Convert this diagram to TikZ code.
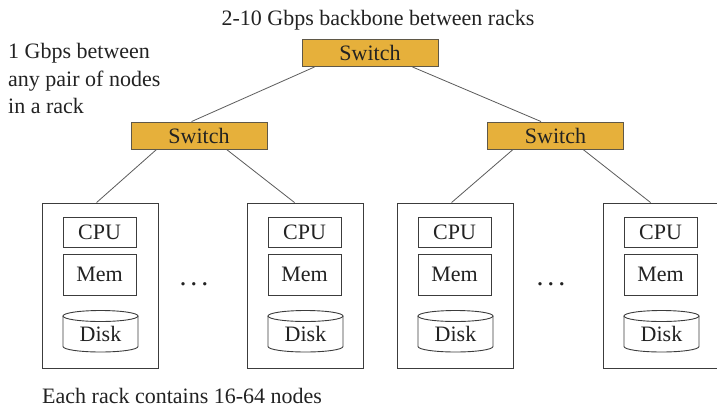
\documentclass[tikz,border=0pt]{standalone}
\usepackage{fontspec}
\setmainfont{Liberation Serif}
\usetikzlibrary{calc}
\definecolor{swfill}{HTML}{E6B03B}
\definecolor{swline}{HTML}{5F5848}
\definecolor{txt}{HTML}{222222}
\definecolor{boxline}{HTML}{3C3C3C}
\definecolor{connline}{HTML}{5A5A5A}
\tikzset{
  lbl/.style={font=\fontsize{22}{26}\selectfont, text=txt, inner sep=0},
  dotlbl/.style={font=\fontsize{28}{30}\selectfont, text=txt, inner sep=0},
  switchbox/.style={lbl, draw=swline, fill=swfill, line width=0.9pt, minimum width=136pt, minimum height=27pt},
  rackbox/.style={draw=boxline, line width=0.9pt, minimum width=116pt, minimum height=165pt, inner sep=0},
  cpubox/.style={lbl, draw=boxline, line width=0.9pt, minimum width=73pt, minimum height=30pt},
  membox/.style={lbl, draw=boxline, line width=0.9pt, minimum width=73pt, minimum height=41pt},
  conn/.style={draw=connline, line width=0.8pt},
  diskline/.style={draw=boxline, line width=0.9pt}
}
\newcommand{\myrack}[2]{%
  \node[rackbox] (#2) at (#1+58,285.5) {};
  \node[cpubox] (#2cpu) at (#1+57.5,232) {CPU};
  \node[membox] (#2mem) at (#1+57.5,274.5) {Mem};
  \node[lbl] (#2disk) at (#1+58.5,334) {Disk};
  \draw[diskline] ($(#2disk.center)+(-37.5,-18)$) -- ++(0,30.5)
     arc[start angle=180, end angle=0, x radius=37.5, y radius=5.5] -- ++(0,-30.5);
  \draw[diskline] ($(#2disk.center)+(0,-18)$) ellipse[x radius=37.5, y radius=5.5];
}
\begin{document}
\begin{tikzpicture}[x=1pt,y=-1pt]
\useasboundingbox (0,0) rectangle (717,408);
\node[lbl, anchor=base] (title) at (378,25) {2-10 Gbps backbone between racks};
\node[lbl, anchor=base west] (l1) at (8,58) {1 Gbps between};
\node[lbl, anchor=base west] (l2) at (8,86) {any pair of nodes};
\node[lbl, anchor=base west] (l3) at (8,113) {in a rack};
\node[switchbox] (top) at (370,53) {Switch};
\node[switchbox] (ls) at (199,135.5) {Switch};
\node[switchbox] (rs) at (555.5,135.5) {Switch};
\myrack{42}{ra}
\myrack{247}{rb}
\myrack{397}{rc}
\myrack{603}{rd}
\draw[conn] ([xshift=13pt]top.south west) -- ([xshift=61pt]ls.north west);
\draw[conn] ([xshift=-26pt]top.south east) -- ([xshift=54pt]rs.north west);
\draw[conn] ([xshift=26pt]ls.south west) -- ([xshift=55pt]ra.north west);
\draw[conn] ([xshift=96pt]ls.south west) -- ([xshift=48pt]rb.north west);
\draw[conn] ([xshift=26pt]rs.south west) -- ([xshift=55pt]rc.north west);
\draw[conn] ([xshift=96pt]rs.south west) -- ([xshift=48pt]rd.north west);
\node[dotlbl, anchor=base] (dots1) at (194,285) {.\hspace{4pt}.\hspace{4pt}.};
\node[dotlbl, anchor=base] (dots2) at (551,285) {.\hspace{4pt}.\hspace{4pt}.};
\node[lbl, anchor=base west] (foot) at (42,403) {Each rack contains 16-64 nodes};
\end{tikzpicture}
\end{document}
